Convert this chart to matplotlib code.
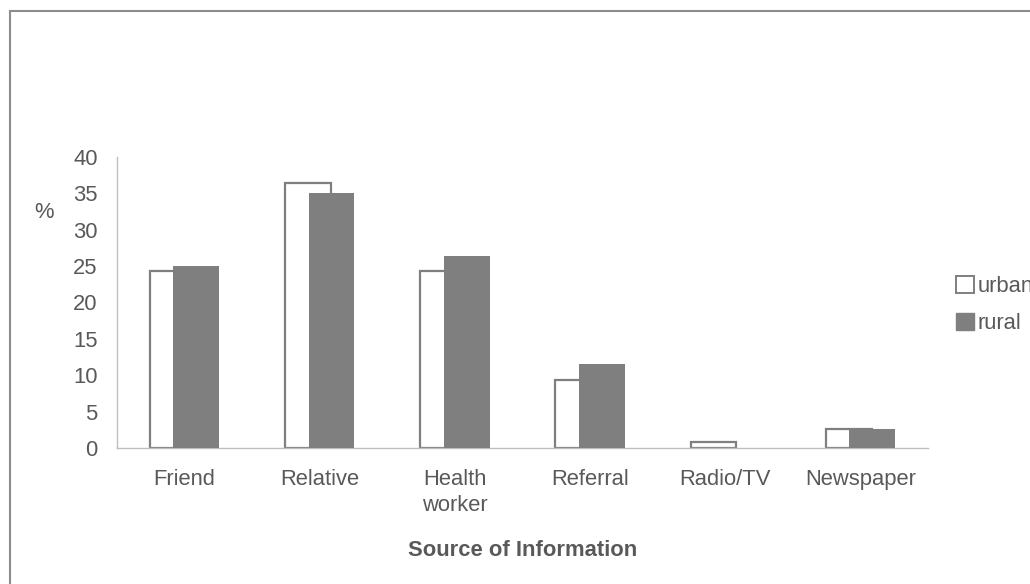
import matplotlib.pyplot as plt
from matplotlib.patches import Rectangle, Patch
import numpy as np

plt.rcParams['font.family'] = ['Liberation Sans', 'DejaVu Sans']

categories = ['Friend', 'Relative', 'Health\nworker', 'Referral', 'Radio/TV', 'Newspaper']
urban = [24.3, 36.4, 24.3, 9.3, 0.8, 2.6]
rural = [25.0, 35.1, 26.4, 11.5, 0.0, 2.6]

grey = '#7f7f7f'
txt = '#595959'
fs = 15.8

fig = plt.figure(figsize=(10.3, 5.84), dpi=100)
# outer frame (right/bottom edges fall outside the image)
fig.patches.append(Rectangle((10/1030, -0.05), 1.1, 1 - 11/584 + 0.05,
                             transform=fig.transFigure, fill=False,
                             edgecolor='#8c8c8c', linewidth=1.5))

ax = fig.add_axes([117/1030, 1 - 448/584, (928 - 117)/1030, (448 - 157)/584])
x = np.arange(len(categories))
w = 0.34
ax.bar(x - 0.087, urban, w, facecolor='white', edgecolor=grey, linewidth=1.6, zorder=2)
ax.bar(x + 0.087, rural, w, facecolor=grey, edgecolor='none', linewidth=0, zorder=3)

ax.set_xlim(-0.5, len(categories) - 0.5)
ax.set_ylim(0, 40)
ax.set_yticks(range(0, 41, 5))
ax.set_xticks(x)
ax.set_xticklabels(categories, linespacing=1.35)
ax.tick_params(length=0, labelsize=fs, labelcolor=txt)
ax.tick_params(axis='x', pad=15)
ax.tick_params(axis='y', pad=14)
for s in ['top', 'right']:
    ax.spines[s].set_visible(False)
for s in ['left', 'bottom']:
    ax.spines[s].set_color('#bfbfbf')
    ax.spines[s].set_linewidth(1.0)

ax.set_xlabel('Source of Information', fontsize=fs, fontweight='bold', color=txt, labelpad=17)
fig.text(44/1030, 1 - 212/584, '%', fontsize=fs, color=txt, ha='center', va='center')

handles = [Patch(facecolor='white', edgecolor=grey, linewidth=1.4, label='urban'),
           Patch(facecolor=grey, edgecolor=grey, label='rural')]
fig.legend(handles=handles, loc='upper left', bbox_to_anchor=(956/1030, 1 - 276/584),
           frameon=False, fontsize=fs, labelcolor=txt, handlelength=0.8, handleheight=0.8,
           handletextpad=0.2, labelspacing=0.72, borderpad=0, borderaxespad=0)

fig.savefig('out.png', dpi=100)
